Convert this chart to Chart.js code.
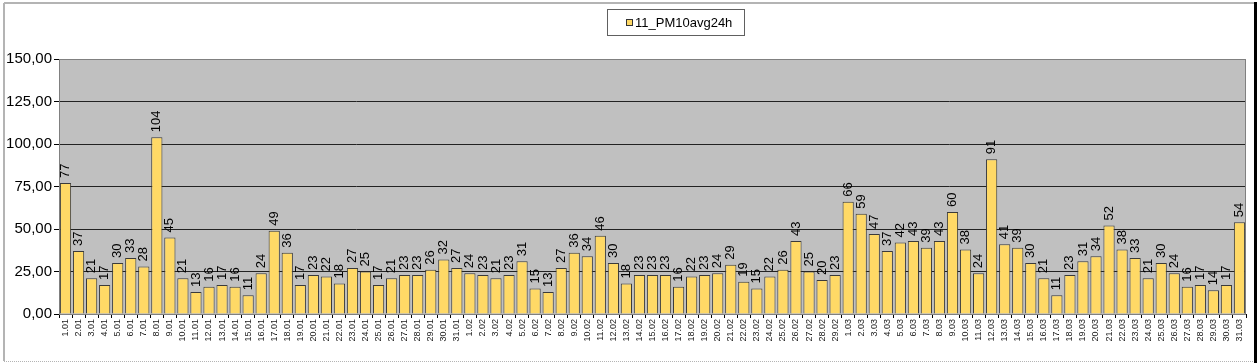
<!DOCTYPE html>
<html>
<head>
<meta charset="utf-8">
<script src="https://cdn.jsdelivr.net/npm/chart.js@4/dist/chart.umd.min.js"></script>
<style>
	html, body { margin: 0; padding: 0; background: #fff; }
	canvas { display: block; }
</style>
</head>
<body>
<canvas id="pm-chart" width="1260" height="363"></canvas>
<script>
// daily values, one array per month
const janValues = [77, 37, 21, 17, 30, 33, 28, 104, 45, 21, 13, 16, 17, 16, 11, 24, 49, 36, 17, 23, 22, 18, 27, 25, 17, 21, 23, 23, 26, 32, 27];
const febValues = [24, 23, 21, 23, 31, 15, 13, 27, 36, 34, 46, 30, 18, 23, 23, 23, 16, 22, 23, 24, 29, 19, 15, 22, 26, 43, 25, 20, 23];
const marValues = [66, 59, 47, 37, 42, 43, 39, 43, 60, 38, 24, 91, 41, 39, 30, 21, 11, 23, 31, 34, 52, 38, 33, 21, 30, 24, 16, 17, 14, 17, 54];

const seriesName = "11_PM10avg24h";
const yTicks = [0, 25, 50, 75, 100, 125, 150];

const labels = [];
janValues.forEach((v, i) => labels.push((i + 1) + ".01"));
febValues.forEach((v, i) => labels.push((i + 1) + ".02"));
marValues.forEach((v, i) => labels.push((i + 1) + ".03"));

const values = janValues.concat(febValues, marValues);

const fontFamily = "'Liberation Sans', Arial, sans-serif";

// frame, plot background and legend box
const framePlugin = {
	id: "frame",
	beforeDraw(chart) {
		const ctx = chart.ctx;
		const area = chart.chartArea;
		ctx.save();
		ctx.fillStyle = "#fff";
		ctx.fillRect(0, 0, chart.width, chart.height);
		ctx.fillStyle = "#c0c0c0";
		ctx.fillRect(area.left, area.top, area.right - area.left, area.bottom - area.top);

		ctx.strokeStyle = "#b4b4b4";
		ctx.lineWidth = 2;
		ctx.beginPath();
		ctx.moveTo(4, 3);
		ctx.lineTo(1255, 3);
		ctx.moveTo(4, 3);
		ctx.lineTo(4, 361);
		ctx.stroke();
		ctx.setLineDash([1, 1]);
		ctx.lineWidth = 1;
		ctx.beginPath();
		ctx.moveTo(4, 361.5);
		ctx.lineTo(1255, 361.5);
		ctx.stroke();
		ctx.setLineDash([]);
		ctx.strokeStyle = "#000";
		ctx.lineWidth = 3;
		ctx.beginPath();
		ctx.moveTo(1255.5, 2);
		ctx.lineTo(1255.5, 363);
		ctx.stroke();
		ctx.restore();
	},
	afterDraw(chart) {
		const ctx = chart.ctx;
		const area = chart.chartArea;
		ctx.save();
		ctx.strokeStyle = "#808080";
		ctx.lineWidth = 1;
		ctx.strokeRect(area.left + 0.5, area.top + 0.5, area.right - area.left - 1, area.bottom - area.top);

		// legend
		ctx.fillStyle = "#fff";
		ctx.fillRect(607.5, 9.5, 137, 26);
		ctx.strokeStyle = "#606060";
		ctx.strokeRect(607.5, 9.5, 137, 26);
		ctx.fillStyle = "#ffd966";
		ctx.fillRect(626, 19, 7, 7);
		ctx.strokeStyle = "#333";
		ctx.strokeRect(626.5, 19.5, 6, 6);
		ctx.fillStyle = "#000";
		ctx.font = "13px " + fontFamily;
		ctx.textBaseline = "middle";
		ctx.fillText(seriesName, 635, 23);
		ctx.restore();
	},
};

// vertical value labels above each bar
const barLabelsPlugin = {
	id: "barLabels",
	afterDatasetsDraw(chart) {
		const ctx = chart.ctx;
		const meta = chart.getDatasetMeta(0);
		ctx.save();
		ctx.fillStyle = "#000";
		ctx.font = "13px " + fontFamily;
		ctx.textAlign = "left";
		ctx.textBaseline = "middle";
		meta.data.forEach((bar, i) => {
			ctx.save();
			ctx.translate(bar.x, bar.y - 5);
			ctx.rotate(-Math.PI / 2);
			ctx.fillText(String(values[i]), 0, 0);
			ctx.restore();
		});
		ctx.restore();
	},
};

const pmCanvas = document.getElementById("pm-chart");

const pmChart = new Chart(pmCanvas, {
	type: "bar",
	data: {
		labels: labels,
		datasets: [
			{
				label: seriesName,
				data: values,
				backgroundColor: "#ffd966",
				borderColor: "#3a3a3a",
				borderWidth: 1,
				barPercentage: 0.86,
				categoryPercentage: 1,
			},
		],
	},
	options: {
		responsive: false,
		animation: false,
		layout: {
			padding: { left: 4, right: 14, top: 59, bottom: 0 },
		},
		plugins: {
			legend: { display: false },
			tooltip: { enabled: false },
		},
		scales: {
			x: {
				afterFit: (scale) => {
					scale.height = 49;
				},
				grid: {
					offset: true,
					drawOnChartArea: false,
					drawTicks: true,
					tickLength: 4,
					color: "#000",
				},
				border: { color: "#000" },
				ticks: {
					autoSkip: false,
					minRotation: 90,
					maxRotation: 90,
					padding: 1,
					color: "#202020",
					font: { family: fontFamily, size: 9 },
				},
			},
			y: {
				min: 0,
				max: 150,
				afterFit: (scale) => {
					scale.width = 55;
				},
				afterBuildTicks: (scale) => {
					scale.ticks = yTicks.map((v) => ({ value: v }));
				},
				grid: {
					color: "#222",
					tickLength: 5,
					tickColor: "#000",
				},
				border: { color: "#000" },
				ticks: {
					padding: 2,
					color: "#000",
					font: { family: fontFamily, size: 15 },
					callback: (v) => v.toFixed(2).replace(".", ","),
				},
			},
		},
	},
	plugins: [framePlugin, barLabelsPlugin],
});
</script>
</body>
</html>
